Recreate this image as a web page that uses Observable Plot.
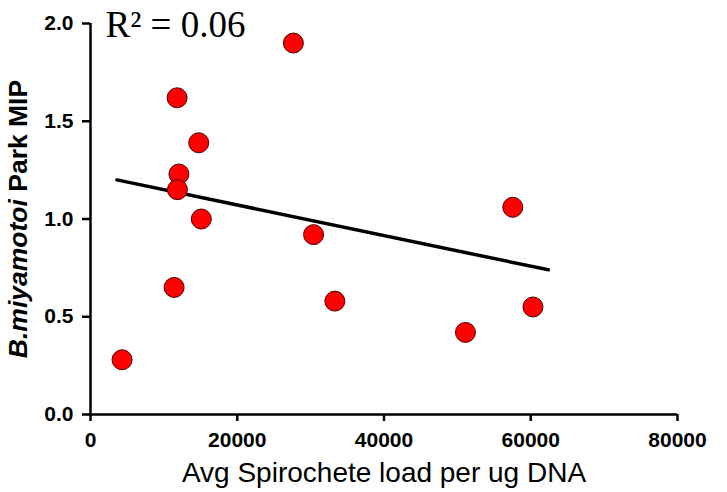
<!DOCTYPE html>
<html>
<head>
<meta charset="utf-8">
<script src="https://cdn.jsdelivr.net/npm/d3@7"></script>
<script src="https://cdn.jsdelivr.net/npm/@observablehq/plot@0.6"></script>
<style>
  html, body { margin: 0; padding: 0; background: #ffffff; }
</style>
</head>
<body>
<div id="chart"></div>
<script>
// Data
const spirocheteLoad = [4300, 11800, 14750, 12050, 11850, 15100, 27650, 30400, 11400, 33300, 51100, 60300, 57550];
const parkMIP        = [0.28, 1.62, 1.39, 1.23, 1.15, 1.00, 1.90, 0.92, 0.65, 0.58, 0.42, 0.55, 1.06];
const fitLoad = [3600, 62400];
const fitMIP  = [1.20, 0.74];
const xTicks = [0, 20000, 40000, 60000, 80000];
const yTicks = [0, 0.5, 1.0, 1.5, 2.0];
const xTitle = ["Avg Spirochete load per ug DNA"];
const yTitleItalic = "B.miyamotoi";
const yTitleRest = " Park MIP";
const annotation = ["R\u00B2 = 0.06"];

const points = spirocheteLoad.map((x, i) => ({x, y: parkMIP[i]}));
const fit = fitLoad.map((x, i) => ({x, y: fitMIP[i]}));

const sans = "'Liberation Sans', Arial, Helvetica, sans-serif";

const chart = Plot.plot({
  width: 727,
  height: 492,
  marginLeft: 90,
  marginRight: 50,
  marginTop: 23,
  marginBottom: 78,
  style: {fontFamily: sans, background: "#ffffff", color: "#000000"},
  x: {domain: [0, 80000]},
  y: {domain: [0, 2]},
  marks: [
    Plot.axisX({ticks: xTicks, tickFormat: d => String(d), tickSize: 7, tickPadding: 11,
      strokeWidth: 2.5, fontSize: 21, fontWeight: "bold", label: null}),
    Plot.axisY({ticks: yTicks, tickFormat: d => d.toFixed(1), tickSize: 8, tickPadding: 9,
      strokeWidth: 2.5, fontSize: 21, fontWeight: "bold", label: null}),
    Plot.ruleX([0], {strokeWidth: 2.5}),
    Plot.ruleY([0], {strokeWidth: 2.5}),
    Plot.line(fit, {x: "x", y: "y", strokeWidth: 3.5, stroke: "#000000"}),
    Plot.dot(points, {x: "x", y: "y", r: 10, fill: "#ff0000", stroke: "#4a0000", strokeWidth: 1}),
    Plot.text(annotation, {frameAnchor: "top-left", dx: 15, dy: 13, lineAnchor: "bottom", textAnchor: "start",
      fontFamily: "'Liberation Serif', 'Times New Roman', serif", fontSize: 37, fill: "#000000"}),
    Plot.text(xTitle, {frameAnchor: "bottom", dy: 67, lineAnchor: "bottom", textAnchor: "middle", fontSize: 28, fill: "#000000"}),
    Plot.text([yTitleItalic + yTitleRest], {frameAnchor: "left", dx: -64, dy: 0, rotate: -90, lineAnchor: "bottom",
      textAnchor: "middle", fontSize: 26.5, fontWeight: "bold", fill: "#000000", className: "ytitle"})
  ]
});

// Mixed italic styling for the y-axis title
const t = chart.querySelector(".ytitle text");
if (t) {
  t.textContent = "";
  const ns = "http://www.w3.org/2000/svg";
  const a = document.createElementNS(ns, "tspan");
  a.setAttribute("font-style", "italic");
  a.textContent = yTitleItalic;
  const b = document.createElementNS(ns, "tspan");
  b.textContent = yTitleRest;
  t.appendChild(a);
  t.appendChild(b);
}

document.getElementById("chart").appendChild(chart);
</script>
</body>
</html>
